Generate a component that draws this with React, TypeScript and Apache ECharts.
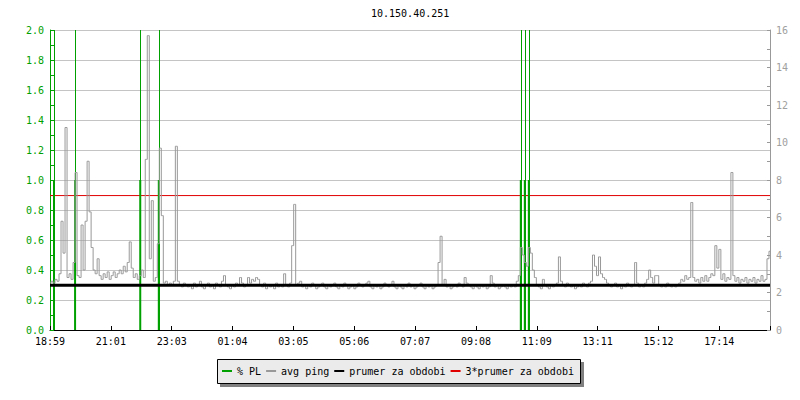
import React, { useEffect, useRef } from "react";
import * as echarts from "echarts";

const TITLE = "10.150.40.251";
const FONT = "DejaVu Sans Mono";

// x axis: minutes since 18:59, ticks every 121.36 min
const X_LABELS = ["18:59", "21:01", "23:03", "01:04", "03:05", "05:06", "07:07", "09:08", "11:09", "13:11", "15:12", "17:14"];
const X_MAX = 1436;
const X_TICK_STEP = 121.36;

// avg ping (ms, right axis), one sample every 4 minutes
const PING_STEP = 4;
const PING_MS = [
  2.5, 2.6, 2.5, 2.7, 2.6, 3.0, 5.8, 4.1, 10.8, 2.8,
  3.0, 2.7, 3.6, 8.4, 2.9, 2.8, 5.6, 3.2, 5.8, 9.0,
  6.3, 4.4, 3.2, 3.0, 3.8, 2.9, 2.7, 3.0, 2.8, 3.1,
  2.7, 2.9, 3.1, 2.8, 3.0, 3.2, 3.0, 3.4, 3.1, 3.6,
  4.7, 3.3, 2.8, 3.0, 2.7, 2.9, 3.2, 2.8, 9.1, 15.7,
  3.8, 6.9, 2.6, 2.8, 4.6, 9.7, 6.1, 2.5, 2.6, 2.4,
  2.5, 2.4, 2.6, 9.8, 2.6, 2.4, 2.3, 2.5, 2.4, 2.3,
  2.4, 2.2, 2.5, 2.3, 2.4, 2.6, 2.3, 2.2, 2.4, 2.5,
  2.3, 2.4, 2.2, 2.5, 2.4, 2.3, 2.6, 2.9, 2.4, 2.3,
  2.2, 2.4, 2.3, 2.5, 2.4, 2.8, 2.5, 2.3, 2.4, 2.8,
  2.5, 2.7, 2.6, 2.8, 2.7, 2.4, 2.3, 2.5, 2.2, 2.4,
  2.3, 2.4, 2.2, 2.5, 2.3, 2.4, 2.3, 3.0, 2.4, 2.3,
  2.5, 4.5, 6.7, 2.4, 2.5, 2.6, 2.3, 2.4, 2.2, 2.4,
  2.3, 2.5, 2.4, 2.2, 2.3, 2.4, 2.5, 2.3, 2.2, 2.4,
  2.3, 2.4, 2.5, 2.3, 2.2, 2.4, 2.3, 2.5, 2.4, 2.2,
  2.3, 2.4, 2.2, 2.3, 2.5, 2.4, 2.3, 2.4, 2.5, 2.6,
  2.3, 2.2, 2.4, 2.3, 2.4, 2.2, 2.3, 2.5, 2.4, 2.3,
  2.4, 2.6, 2.3, 2.2, 2.4, 2.3, 2.2, 2.4, 2.3, 2.5,
  2.3, 2.4, 2.2, 2.3, 2.4, 2.5, 2.3, 2.2, 2.4, 2.3,
  2.4, 2.2, 2.3, 2.4, 3.6, 5.0, 2.4, 2.7, 2.3, 2.4,
  2.2, 2.3, 2.4, 2.3, 2.5, 2.4, 2.3, 2.8, 2.5, 2.4,
  2.3, 2.2, 2.4, 2.3, 2.2, 2.4, 2.3, 2.4, 2.2, 2.3,
  2.9, 2.5, 2.3, 2.4, 2.2, 2.3, 2.4, 2.3, 2.2, 2.4,
  2.3, 2.4, 2.3, 2.6, 2.9, 4.4, 4.0, 3.6, 3.4, 4.4,
  4.1, 3.2, 2.8, 2.4, 2.3, 2.2, 2.7, 2.4, 2.3, 2.2,
  2.4, 2.3, 2.4, 2.5, 3.9, 2.6, 2.4, 2.3, 2.5, 2.4,
  2.3, 2.4, 2.2, 2.3, 2.4, 2.3, 2.5, 2.4, 2.3, 2.5,
  2.6, 4.0, 3.4, 2.9, 3.9, 3.0, 2.8, 2.7, 2.5, 2.4,
  2.3, 2.4, 2.5, 2.3, 2.4, 2.2, 2.4, 2.3, 2.5, 2.4,
  2.3, 2.4, 3.6, 2.5, 2.3, 2.4, 2.3, 2.5, 2.7, 3.2,
  2.8, 2.5, 2.9, 2.9, 2.4, 2.3, 2.4, 2.3, 2.5, 2.4,
  2.3, 2.4, 2.3, 2.4, 2.5, 2.7, 2.6, 2.9, 2.7, 2.8,
  6.8, 2.8, 2.6, 2.7, 2.5, 2.8, 2.6, 2.9, 2.6, 2.8,
  3.0, 2.9, 4.5, 3.3, 4.3, 2.7, 3.0, 2.6, 2.8, 2.7,
  8.4, 2.9, 2.6, 2.8, 2.5, 2.7, 2.6, 2.8, 2.5, 2.7,
  2.6, 2.8, 2.5, 2.7, 2.6, 2.9, 2.6, 2.7, 3.8, 4.2,
];

// packet loss events (minutes since start) and values (left axis)
const PL_TIMES = [8, 50, 180, 217, 939, 947, 955];
const PL_VALUES = [1.0, 1.0, 1.0, 1.0, 1.0, 1.0, 1.0];

const AVG_PING = 2.39;
const AVG_PING_X3 = 7.17;

const LEGEND_NAMES = ["% PL", "avg ping", "prumer za obdobi", "3*prumer za obdobi"];

const GREEN = "#00a000";
const GREY = "#999999";

export default function App() {
  const ref = useRef<HTMLDivElement>(null);

  useEffect(() => {
    if (!ref.current) return;
    const chart = echarts.init(ref.current, undefined, { renderer: "svg" });

    const pingData = PING_MS.map((v, i) => [i * PING_STEP, v]);
    const plData = PL_TIMES.map((t, i) => [t, PL_VALUES[i]]);

    chart.setOption({
      animation: false,
      backgroundColor: "#ffffff",
      textStyle: { fontFamily: FONT, fontSize: 10 },
      title: {
        text: TITLE,
        left: 371,
        top: 8,
        padding: 0,
        textStyle: { fontFamily: FONT, fontSize: 10, fontWeight: "normal", color: "#000" },
      },
      grid: { left: 50, right: 30, top: 30, bottom: 70, containLabel: false },
      legend: {
        data: LEGEND_NAMES,
        left: 222,
        top: 366,
        padding: 0,
        icon: "rect",
        itemWidth: 10,
        itemHeight: 2,
        itemGap: 5,
        selectedMode: false,
        z: 4,
        textStyle: { fontFamily: FONT, fontSize: 10, color: "#000" },
      },
      graphic: [
        {
          type: "rect",
          z: 1,
          shape: { x: 220, y: 362, width: 364, height: 25 },
          style: { fill: "#808080" },
        },
        {
          type: "rect",
          z: 1,
          shape: { x: 217.5, y: 359.5, width: 363, height: 24 },
          style: { fill: "#ebebeb", stroke: "#000", lineWidth: 1 },
        },
      ],
      xAxis: {
        type: "value",
        min: 0,
        max: X_MAX,
        interval: X_TICK_STEP,
        axisLine: { show: true, onZero: false, lineStyle: { color: "#000", width: 1 } },
        axisTick: { show: true, inside: true, length: 4, lineStyle: { color: "#000" } },
        axisLabel: {
          color: "#000",
          fontFamily: FONT,
          fontSize: 10,
          margin: 6,
          formatter: (v: number) => X_LABELS[Math.round(v / X_TICK_STEP)] ?? "",
        },
        splitLine: { show: false },
      },
      yAxis: [
        {
          type: "value",
          position: "left",
          min: 0,
          max: 2,
          interval: 0.2,
          axisLine: { show: true, lineStyle: { color: GREEN, width: 1 } },
          axisTick: { show: true, inside: true, length: 4, lineStyle: { color: GREEN } },
          minorTick: { show: true, splitNumber: 2, length: 4, lineStyle: { color: GREEN } },
          axisLabel: {
            color: GREEN,
            fontFamily: FONT,
            fontSize: 10,
            margin: 6,
            formatter: (v: number) => v.toFixed(1),
          },
          splitLine: { show: true, lineStyle: { color: "#c4c4c4", width: 1 } },
        },
        {
          type: "value",
          position: "right",
          min: 0,
          max: 16,
          interval: 2,
          axisLine: { show: true, lineStyle: { color: GREY, width: 1 } },
          axisTick: { show: true, inside: true, length: 3, lineStyle: { color: GREY } },
          minorTick: { show: true, splitNumber: 2, length: 3, lineStyle: { color: GREY } },
          axisLabel: {
            color: "#a0a0a0",
            fontFamily: FONT,
            fontSize: 10,
            margin: 6,
            formatter: (v: number) => String(Math.round(v)),
          },
          splitLine: { show: false },
        },
      ],
      series: [
        {
          name: "% PL",
          type: "bar",
          yAxisIndex: 0,
          data: plData,
          barWidth: 2,
          itemStyle: { color: GREEN },
          z: 2,
          markLine: {
            silent: true,
            z: 2,
            symbol: ["none", "none"],
            label: { show: false },
            lineStyle: { color: GREEN, width: 1, type: "solid" },
            emphasis: { disabled: true },
            data: PL_TIMES.map((t) => ({ xAxis: t })),
          },
        },
        {
          name: "avg ping",
          type: "line",
          yAxisIndex: 1,
          data: pingData,
          step: "middle",
          symbol: "none",
          showSymbol: false,
          color: GREY,
          lineStyle: { color: GREY, width: 1 },
          z: 3,
        },
        {
          name: "prumer za obdobi",
          type: "line",
          yAxisIndex: 1,
          data: [[0, AVG_PING], [X_MAX, AVG_PING]],
          symbol: "none",
          color: "#000000",
          lineStyle: { color: "#000000", width: 3 },
          z: 4,
        },
        {
          name: "3*prumer za obdobi",
          type: "line",
          yAxisIndex: 1,
          data: [[0, AVG_PING_X3], [X_MAX, AVG_PING_X3]],
          symbol: "none",
          color: "#e00000",
          lineStyle: { color: "#e00000", width: 1 },
          z: 1,
        },
      ],
    });

    return () => {
      chart.dispose();
    };
  }, []);

  return (
    <div
      ref={ref}
      style={{ position: "fixed", left: 0, top: 0, width: 800, height: 400, background: "#fff" }}
    />
  );
}
